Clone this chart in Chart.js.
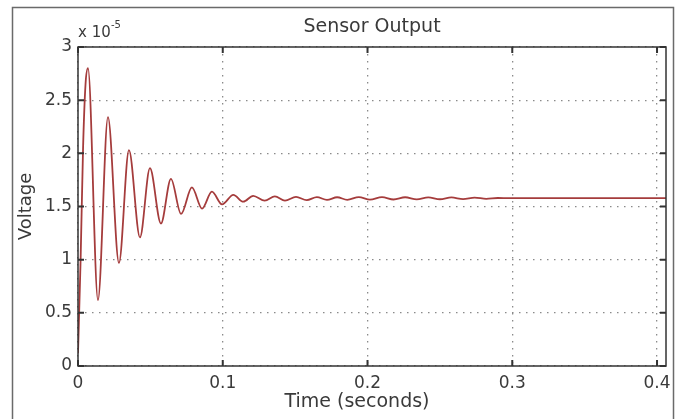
<!DOCTYPE html>
<html>
<head>
<meta charset="utf-8">
<title>Sensor Output</title>
<script src="https://cdn.jsdelivr.net/npm/chart.js@4.4.0/dist/chart.umd.min.js"></script>
<style>
    html, body { margin: 0; padding: 0; background: #fff; }
    #wrap { width: 679px; height: 419px; }
</style>
</head>
<body>
<div id="wrap"><canvas id="myChart" width="679" height="419"></canvas></div>
<script>
// values, voltage in units of 1e-5
var times = [0, 0.0018, 0.0035, 0.0052, 0.0069, 0.0138, 0.0207, 0.0283, 0.0352, 0.0428,
    0.0497, 0.0573, 0.0642, 0.0712, 0.0787, 0.0857, 0.0925, 0.0995, 0.1073, 0.1142,
    0.121, 0.129, 0.136, 0.143, 0.1506, 0.158, 0.165, 0.172, 0.179, 0.186,
    0.194, 0.2017, 0.21, 0.218, 0.226, 0.234, 0.242, 0.25, 0.258, 0.266,
    0.274, 0.282, 0.29, 0.298, 0.35, 0.407];
var voltage = [0.12, 1.0, 2.05, 2.65, 2.80, 0.62, 2.34, 0.97, 2.03, 1.21,
    1.86, 1.34, 1.76, 1.43, 1.68, 1.48, 1.64, 1.52, 1.61, 1.545,
    1.60, 1.555, 1.595, 1.555, 1.59, 1.56, 1.588, 1.562, 1.587, 1.563,
    1.588, 1.565, 1.588, 1.566, 1.587, 1.567, 1.586, 1.568, 1.585, 1.57,
    1.584, 1.572, 1.58, 1.578, 1.579, 1.579];
var xTicks = [0, 0.1, 0.2, 0.3, 0.4];
var yTicks = [0, 0.5, 1, 1.5, 2, 2.5, 3];
var chartTitle = 'Sensor Output';
var xLabel = 'Time (seconds)';
var exponent = '-5';

var points = [];
for (var i = 0; i < times.length; i++) {
    points.push({ x: times[i], y: voltage[i] });
}

var textColor = '#3a3a3a';
var fontFamily = "'DejaVu Sans', sans-serif";

// MATLAB style decorations: outer frame, axes box, inward ticks, title, exponent
var matlabFrame = {
    id: 'matlabFrame',
    beforeDraw: function (chart) {
        var ctx = chart.ctx;
        ctx.save();
        ctx.fillStyle = '#fff';
        ctx.fillRect(0, 0, chart.width, chart.height);
        ctx.strokeStyle = '#6a6a6a';
        ctx.lineWidth = 1.5;
        ctx.strokeRect(12.5, 7.5, 661, 430);
        ctx.restore();
    },
    afterDraw: function (chart) {
        var ctx = chart.ctx;
        var a = chart.chartArea;
        var xs = chart.scales.x;
        var ys = chart.scales.y;
        ctx.save();
        ctx.strokeStyle = '#333';
        ctx.lineWidth = 1.5;
        ctx.strokeRect(a.left, a.top, a.right - a.left, a.bottom - a.top);
        ctx.lineWidth = 2;
        ctx.beginPath();
        xTicks.forEach(function (v) {
            var px = xs.getPixelForValue(v);
            ctx.moveTo(px, a.bottom); ctx.lineTo(px, a.bottom - 6);
            ctx.moveTo(px, a.top); ctx.lineTo(px, a.top + 6);
        });
        yTicks.forEach(function (v) {
            var py = ys.getPixelForValue(v);
            ctx.moveTo(a.left, py); ctx.lineTo(a.left + 6, py);
            ctx.moveTo(a.right, py); ctx.lineTo(a.right - 6, py);
        });
        ctx.stroke();

        ctx.fillStyle = textColor;
        ctx.textBaseline = 'middle';
        ctx.textAlign = 'center';
        ctx.font = '19px ' + fontFamily;
        ctx.fillText(chartTitle, (a.left + a.right) / 2, 27);
        ctx.fillText(xLabel, 357, 402);
        ctx.textAlign = 'left';
        ctx.font = '15px ' + fontFamily;
        ctx.fillText('x 10', a.left, 33);
        ctx.font = '10px ' + fontFamily;
        ctx.fillText(exponent, a.left + 33, 25);
        ctx.restore();
    }
};

var ctx = document.getElementById('myChart').getContext('2d');
var sensorChart = new Chart(ctx, {
    type: 'line',
    data: {
        datasets: [{
            label: 'Sensor Output',
            data: points,
            borderColor: '#a53c3c',
            borderWidth: 1.8,
            pointRadius: 0,
            fill: false,
            cubicInterpolationMode: 'monotone'
        }]
    },
    options: {
        responsive: false,
        animation: false,
        layout: { padding: { top: 47, right: 13, left: 0, bottom: 0 } },
        plugins: {
            legend: { display: false },
            tooltip: { enabled: false }
        },
        scales: {
            x: {
                type: 'linear',
                min: 0,
                max: 0.4062,
                afterBuildTicks: function (scale) {
                    scale.ticks = xTicks.map(function (v) { return { value: v }; });
                },
                afterFit: function (scale) { scale.height = 53; },
                ticks: {
                    color: textColor,
                    font: { family: fontFamily, size: 17 },
                    padding: 7,
                    maxRotation: 0,
                    callback: function (v) { return String(+v.toFixed(2)); }
                },
                grid: { color: '#8a8a8a', lineWidth: 1.3, drawTicks: false },
                border: { display: false, dash: [1.5, 5.5] }
            },
            y: {
                min: 0,
                max: 3,
                afterBuildTicks: function (scale) {
                    scale.ticks = yTicks.map(function (v) { return { value: v }; });
                },
                afterFit: function (scale) { scale.width = 78; },
                ticks: {
                    color: textColor,
                    font: { family: fontFamily, size: 17 },
                    padding: 6,
                    callback: function (v) { return String(v); }
                },
                grid: { color: '#8a8a8a', lineWidth: 1.3, drawTicks: false },
                border: { display: false, dash: [1.5, 5.5] },
                title: {
                    display: true,
                    text: 'Voltage',
                    color: textColor,
                    font: { family: fontFamily, size: 18 },
                    padding: { top: 16, bottom: 0 }
                }
            }
        }
    },
    plugins: [matlabFrame]
});
</script>
</body>
</html>
